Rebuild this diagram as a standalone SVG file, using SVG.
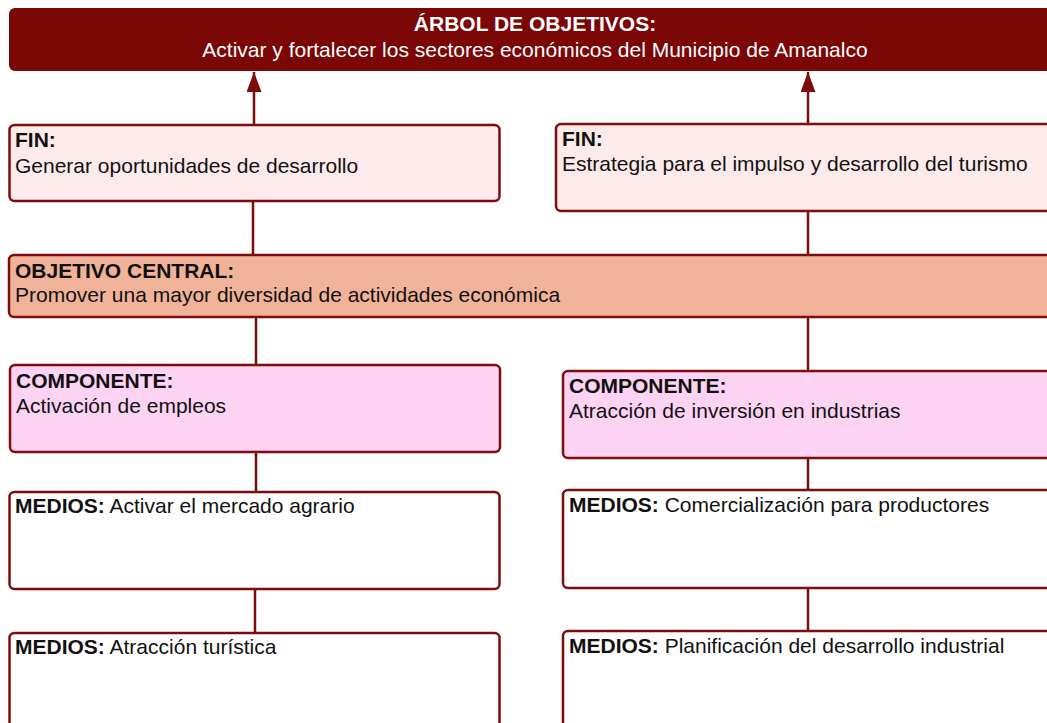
<svg xmlns="http://www.w3.org/2000/svg" width="1047" height="723" viewBox="0 0 1047 723">
<style>
.box{stroke:#7d0c0c;stroke-width:2.5}
.t{font-family:"Liberation Sans",Arial,sans-serif;font-size:21px;fill:#111}
.b{font-weight:bold}
.w{fill:#fff}
.c{stroke:#7d0c0c;stroke-width:2.5;fill:none}
</style>
<defs>
<marker id="ah" markerWidth="8" markerHeight="6" refX="8" refY="3" orient="auto" markerUnits="strokeWidth" viewBox="0 0 8 6">
<path d="M0,0 L8,3 L0,6 z" fill="#7d0c0c"/>
</marker>
</defs>
<rect width="1047" height="723" fill="#fff"/>
<g id="title">
<rect x="9" y="8" width="1050" height="63" rx="6" fill="#7a0606"/>
<text class="t b w" x="535" y="31" text-anchor="middle">ÁRBOL DE OBJETIVOS:</text>
<text class="t w" x="535" y="57" text-anchor="middle">Activar y fortalecer los sectores económicos del Municipio de Amanalco</text>
</g>
<g id="connectors">
<line class="c" x1="254" y1="125" x2="254" y2="72" marker-end="url(#ah)"/>
<line class="c" x1="808" y1="124" x2="808" y2="72" marker-end="url(#ah)"/>
<line class="c" x1="253" y1="201" x2="253" y2="255"/>
<line class="c" x1="808" y1="211" x2="808" y2="255"/>
<line class="c" x1="256" y1="317" x2="256" y2="365"/>
<line class="c" x1="808" y1="317" x2="808" y2="371"/>
<line class="c" x1="256" y1="452" x2="256" y2="492"/>
<line class="c" x1="808" y1="458" x2="808" y2="490"/>
<line class="c" x1="255" y1="589" x2="255" y2="633"/>
<line class="c" x1="808" y1="588" x2="808" y2="631"/>
</g>
<g id="fin1">
<rect class="box" x="9.5" y="125" width="490" height="76" rx="5" fill="#fdebeb"/>
<text class="t b" x="15" y="147">FIN:</text>
<text class="t" x="15" y="173">Generar oportunidades de desarrollo</text>
</g>
<g id="fin2">
<rect class="box" x="556" y="124" width="500" height="87" rx="5" fill="#fdebeb"/>
<text class="t b" x="562" y="146">FIN:</text>
<text class="t" x="562" y="171">Estrategia para el impulso y desarrollo del turismo</text>
</g>
<g id="objetivo">
<rect class="box" x="9" y="255" width="1050" height="62" rx="5" fill="#f0b39a"/>
<text class="t b" x="15" y="278">OBJETIVO CENTRAL:</text>
<text class="t" x="15" y="302">Promover una mayor diversidad de actividades económica</text>
</g>
<g id="comp1">
<rect class="box" x="10" y="365" width="490" height="87" rx="5" fill="#fdd3f3"/>
<text class="t b" x="16" y="388">COMPONENTE:</text>
<text class="t" x="16" y="413">Activación de empleos</text>
</g>
<g id="comp2">
<rect class="box" x="563" y="371" width="500" height="87" rx="5" fill="#fdd3f3"/>
<text class="t b" x="569" y="393">COMPONENTE:</text>
<text class="t" x="569" y="418">Atracción de inversión en industrias</text>
</g>
<g id="medios1">
<rect class="box" x="9.5" y="492" width="490" height="97" rx="5" fill="#fff"/>
<text class="t" x="15" y="513"><tspan class="b">MEDIOS:</tspan> Activar el mercado agrario</text>
</g>
<g id="medios2">
<rect class="box" x="9.5" y="633" width="490" height="110" rx="5" fill="#fff"/>
<text class="t" x="15" y="654"><tspan class="b">MEDIOS:</tspan> Atracción turística</text>
</g>
<g id="medios3">
<rect class="box" x="563" y="490" width="500" height="98" rx="5" fill="#fff"/>
<text class="t" x="569" y="512"><tspan class="b">MEDIOS:</tspan> Comercialización para productores</text>
</g>
<g id="medios4">
<rect class="box" x="563" y="631" width="500" height="110" rx="5" fill="#fff"/>
<text class="t" x="569" y="653"><tspan class="b">MEDIOS:</tspan> Planificación del desarrollo industrial</text>
</g>
</svg>
